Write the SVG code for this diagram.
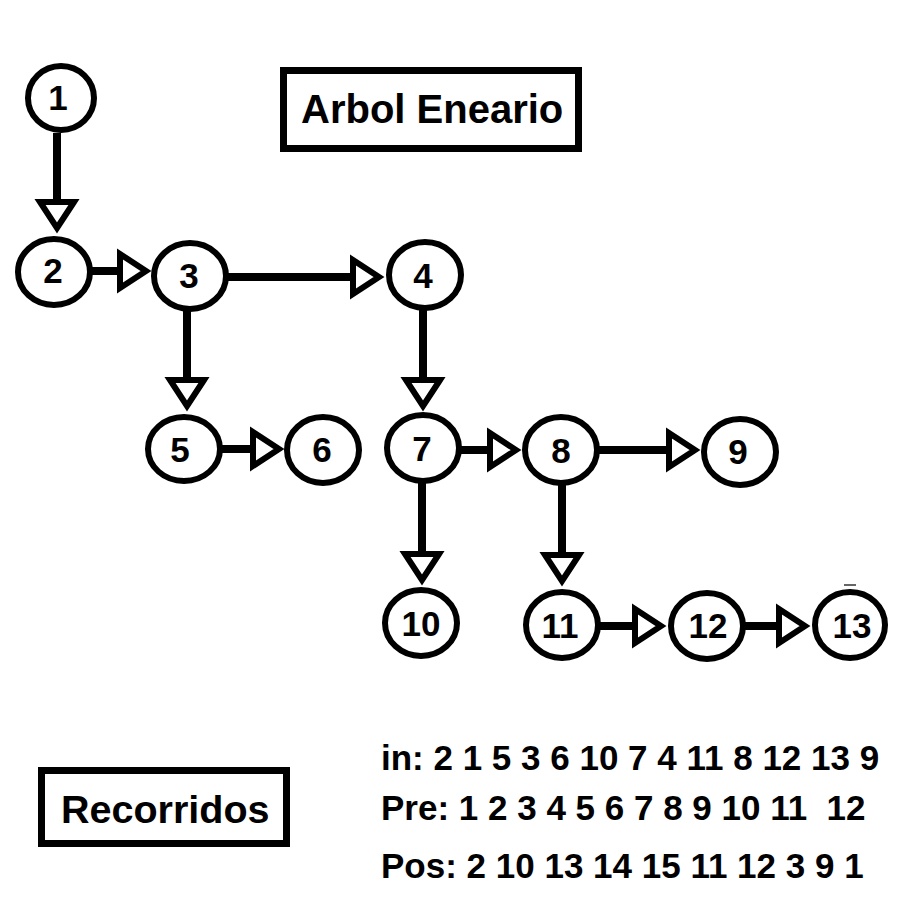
<svg xmlns="http://www.w3.org/2000/svg" width="900" height="900" viewBox="0 0 900 900">
  <style>
    .node ellipse { fill: #ffffff; stroke: #000000; stroke-width: 6; }
    .node text { font-family: "Liberation Sans", Arial, sans-serif; font-weight: bold; font-size: 35px; fill: #000000; text-anchor: middle; }
    .conn line { stroke: #000000; stroke-width: 8; }
    .box rect { fill: #ffffff; stroke: #000000; stroke-width: 7; }
    .box text, .trav text { font-family: "Liberation Sans", Arial, sans-serif; font-weight: bold; fill: #000000; }
  </style>
  <defs>
    <marker id="open" markerUnits="userSpaceOnUse" markerWidth="60" markerHeight="60" refX="-24" refY="0" orient="auto" overflow="visible">
      <path d="M -26 -17 L 0 0 L -26 17 Z" fill="#ffffff" stroke="#000000" stroke-width="6" stroke-linejoin="miter"/>
    </marker>
  </defs>
  <rect x="0" y="0" width="900" height="900" fill="#ffffff"/>

  <g id="connectors" class="conn">
    <line x1="57" y1="133" x2="57" y2="204" marker-end="url(#open)"/>
    <line x1="92" y1="271" x2="122" y2="271" marker-end="url(#open)"/>
    <line x1="227" y1="277" x2="355" y2="277" marker-end="url(#open)"/>
    <line x1="187" y1="310" x2="187" y2="382" marker-end="url(#open)"/>
    <line x1="423" y1="309" x2="423" y2="382" marker-end="url(#open)"/>
    <line x1="221" y1="449" x2="255" y2="449" marker-end="url(#open)"/>
    <line x1="460" y1="450" x2="492" y2="450" marker-end="url(#open)"/>
    <line x1="598" y1="450" x2="671" y2="450" marker-end="url(#open)"/>
    <line x1="422" y1="482" x2="422" y2="556" marker-end="url(#open)"/>
    <line x1="562" y1="484" x2="562" y2="557" marker-end="url(#open)"/>
    <line x1="599" y1="626" x2="637" y2="626" marker-end="url(#open)"/>
    <line x1="744" y1="626" x2="781" y2="626" marker-end="url(#open)"/>
  </g>

  <g id="n1" class="node"><ellipse cx="61" cy="98" rx="33" ry="32"/><text x="58" y="110">1</text></g>
  <g id="n2" class="node"><ellipse cx="54" cy="272" rx="36" ry="33"/><text x="53" y="283">2</text></g>
  <g id="n3" class="node"><ellipse cx="190" cy="276" rx="36" ry="33"/><text x="189" y="288">3</text></g>
  <g id="n4" class="node"><ellipse cx="425" cy="275" rx="36" ry="33"/><text x="423" y="288">4</text></g>
  <g id="n5" class="node"><ellipse cx="184" cy="449" rx="36" ry="32"/><text x="180" y="462">5</text></g>
  <g id="n6" class="node"><ellipse cx="323" cy="450" rx="36" ry="33"/><text x="322" y="462">6</text></g>
  <g id="n7" class="node"><ellipse cx="423" cy="448" rx="36" ry="33"/><text x="422" y="461">7</text></g>
  <g id="n8" class="node"><ellipse cx="561" cy="450" rx="36" ry="33"/><text x="561" y="463">8</text></g>
  <g id="n9" class="node"><ellipse cx="740" cy="452" rx="36" ry="33"/><text x="738" y="464">9</text></g>
  <g id="n10" class="node"><ellipse cx="421" cy="623" rx="36" ry="33"/><text x="421" y="636">10</text></g>
  <g id="n11" class="node"><ellipse cx="562" cy="625" rx="36" ry="33"/><text x="560" y="638">11</text></g>
  <g id="n12" class="node"><ellipse cx="707" cy="626" rx="36" ry="33"/><text x="708" y="638">12</text></g>
  <g id="n13" class="node"><ellipse cx="850" cy="625" rx="35" ry="33"/><text x="852" y="638">13</text></g>
  <line x1="844" y1="585" x2="856" y2="585" stroke="#333333" stroke-width="1.5"/>

  <g id="title" class="box">
    <rect x="283.5" y="70.5" width="295" height="78"/>
    <text x="301" y="123" font-size="40">Arbol Eneario</text>
  </g>
  <g id="recorridos" class="box">
    <rect x="41.5" y="770.5" width="245" height="73"/>
    <text x="61" y="823" font-size="39.5">Recorridos</text>
  </g>
  <g id="traversals" class="trav">
    <text x="381" y="770" font-size="35">in: 2 1 5 3 6 10 7 4 11 8 12 13 9</text>
    <text x="381" y="820" font-size="35" xml:space="preserve">Pre: 1 2 3 4 5 6 7 8 9 10 11  12</text>
    <text x="381" y="878" font-size="35">Pos: 2 10 13 14 15 11 12 3 9 1</text>
  </g>
</svg>
